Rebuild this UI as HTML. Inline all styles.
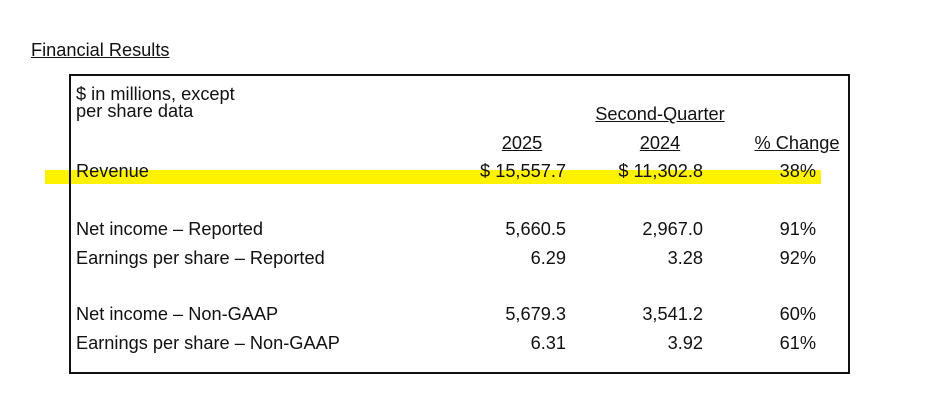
<!DOCTYPE html>
<html><head><meta charset="utf-8"><style>
body{margin:0;width:942px;height:411px;background:#fff;position:relative;overflow:hidden;font-family:"Liberation Sans",Arial,sans-serif;font-size:18.2px;color:#111}
.t{position:absolute;white-space:nowrap;line-height:20px}
.u{text-decoration:underline}
.r{text-align:right}
.c{text-align:center}
</style></head><body>
<div class="t u" style="left:31px;top:40px">Financial Results</div>
<div style="position:absolute;left:45px;top:170px;width:776px;height:14px;background:#fff200"></div>
<div style="position:absolute;left:69px;top:74px;width:777px;height:296px;border:2px solid #111"></div>
<div class="t" style="left:76px;top:86px;line-height:17px">$ in millions, except<br>per share data</div>
<div class="t u c" style="left:580px;width:160px;top:104px">Second-Quarter</div>
<div class="t u c" style="left:482px;width:80px;top:133px">2025</div>
<div class="t u c" style="left:620px;width:80px;top:133px">2024</div>
<div class="t u c" style="left:737px;width:120px;top:133px">% Change</div>
<div id="rows"></div>
<script>
const labels=["Revenue","Net income – Reported","Earnings per share – Reported","Net income – Non-GAAP","Earnings per share – Non-GAAP"];
const v2025=["$ 15,557.7","5,660.5","6.29","5,679.3","6.31"];
const v2024=["$ 11,302.8","2,967.0","3.28","3,541.2","3.92"];
const chg=["38%","91%","92%","60%","61%"];
const tops=[161,219,248,304,333];
const host=document.getElementById('rows');
labels.forEach((l,i)=>{
  const mk=(txt,style,cls,name)=>{const d=document.createElement('div');d.className='t '+cls;d.style.cssText=style+';top:'+tops[i]+'px';d.textContent=txt;


host.appendChild(d);};
  mk(l,'left:76px','', 'row-label');
  mk(v2025[i],'left:405px;width:161px','r','value-2025');
  mk(v2024[i],'left:540px;width:163px','r','value-2024');
  mk(chg[i],'left:700px;width:116px','r','value-change');
});
</script>
</body></html>
